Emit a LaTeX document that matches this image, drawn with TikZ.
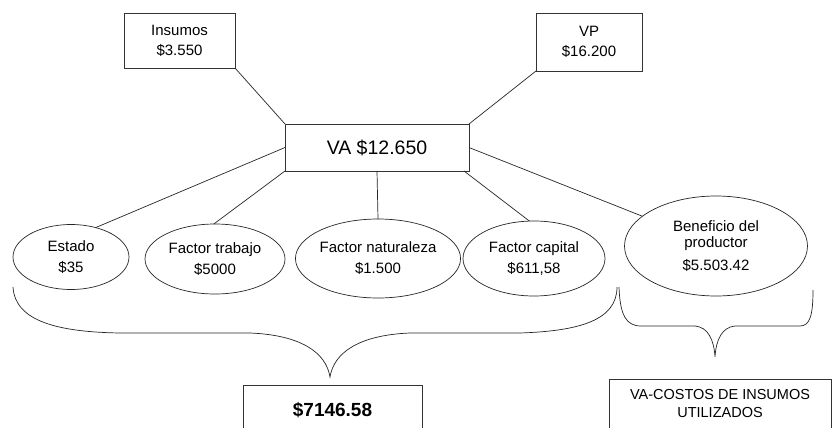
\documentclass[tikz,border=0pt]{standalone}
\usepackage{fontspec}
\setmainfont{Liberation Sans}
\usetikzlibrary{shapes.geometric}
\begin{document}
\begin{tikzpicture}[x=1pt,y=-1pt,
  every node/.style={inner sep=0pt,outer sep=0pt},
  link/.style={draw=black!85,line width=0.7pt},
  rbox/.style={draw=black!80,line width=0.9pt,align=center,font=\fontsize{15}{20}\selectfont},
  oval/.style={ellipse,draw=black!85,line width=0.7pt,align=center,font=\fontsize{15}{21}\selectfont}]
\useasboundingbox[fill=white] (0,0) rectangle (832,428);
% top boxes
\node[rbox,minimum width=111pt,minimum height=55pt] (ins) at (179.5,40.5) {Insumos\\\$3.550};
\node[rbox,minimum width=106pt,minimum height=58pt] (vp) at (589,42) {VP\\\$16.200};
\node[rbox,minimum width=184pt,minimum height=47pt,font=\fontsize{19.5}{22}\selectfont] (va) at (377,147.5) {VA \$12.650};
% ellipses
\node[oval,minimum width=116pt,minimum height=65pt] (est) at (71,257) {Estado\\\$35};
\node[oval,minimum width=140pt,minimum height=70pt] (trab) at (215,259) {Factor trabajo\\\$5000};
\node[oval,minimum width=157pt,minimum height=79pt] (nat) at (378,258.5) {Factor naturaleza\\\$1.500};
\node[oval,minimum width=142pt,minimum height=75pt] (cap) at (534,258.5) {Factor capital\\\$611,58};
\node[oval,minimum width=183pt,minimum height=100pt,font=\fontsize{15}{16}\selectfont] (ben) at (716,246) {Beneficio del\\productor\\[7pt]\$5.503.42};
% connectors
\draw[link] (ins.south east) -- (va.north west);
\draw[link] (vp.south west) -- (va.north east);
\draw[link] (va.west) -- (est.50);
\draw[link] (va.south west) -- (trab.92);
\draw[link] (va.south) -- (nat.north);
\draw[link] ([xshift=-5pt]va.south east) -- (cap.97);
\draw[link] (va.east) -- (ben.158);
% braces
\coordinate (lb1) at (13,287);
\coordinate (lbtip) at (330,377);
\coordinate (lb2) at (617,287);
\draw[link] (lb1) .. controls (15,322) and (60,332) .. (120,333) -- (250,333)
  .. controls (300,335) and (326,352) .. (lbtip)
  .. controls (334,352) and (360,335) .. (410,333) -- (520,333)
  .. controls (580,331) and (617,320) .. (lb2);
\coordinate (rb1) at (619,287);
\coordinate (rbtip) at (715,357);
\coordinate (rb2) at (813,290);
\draw[link] (rb1) .. controls (620,315) and (626,326) .. (641,326) -- (695,326)
  .. controls (708,327) and (714,340) .. (rbtip)
  .. controls (716,340) and (722,327) .. (735,326) -- (800,326)
  .. controls (810,326) and (813,315) .. (rb2);
% bottom boxes (cut by the lower edge)
\node[rbox,minimum width=179pt,minimum height=50pt,font=\bfseries\fontsize{19}{22}\selectfont] (tot) at (332.5,410) {\$7146.58};
\node[rbox,minimum width=222pt,minimum height=50pt,font=\fontsize{14.5}{18}\selectfont] (vac) at (720,404) {VA-COSTOS DE INSUMOS\\UTILIZADOS};
\end{tikzpicture}
\end{document}
